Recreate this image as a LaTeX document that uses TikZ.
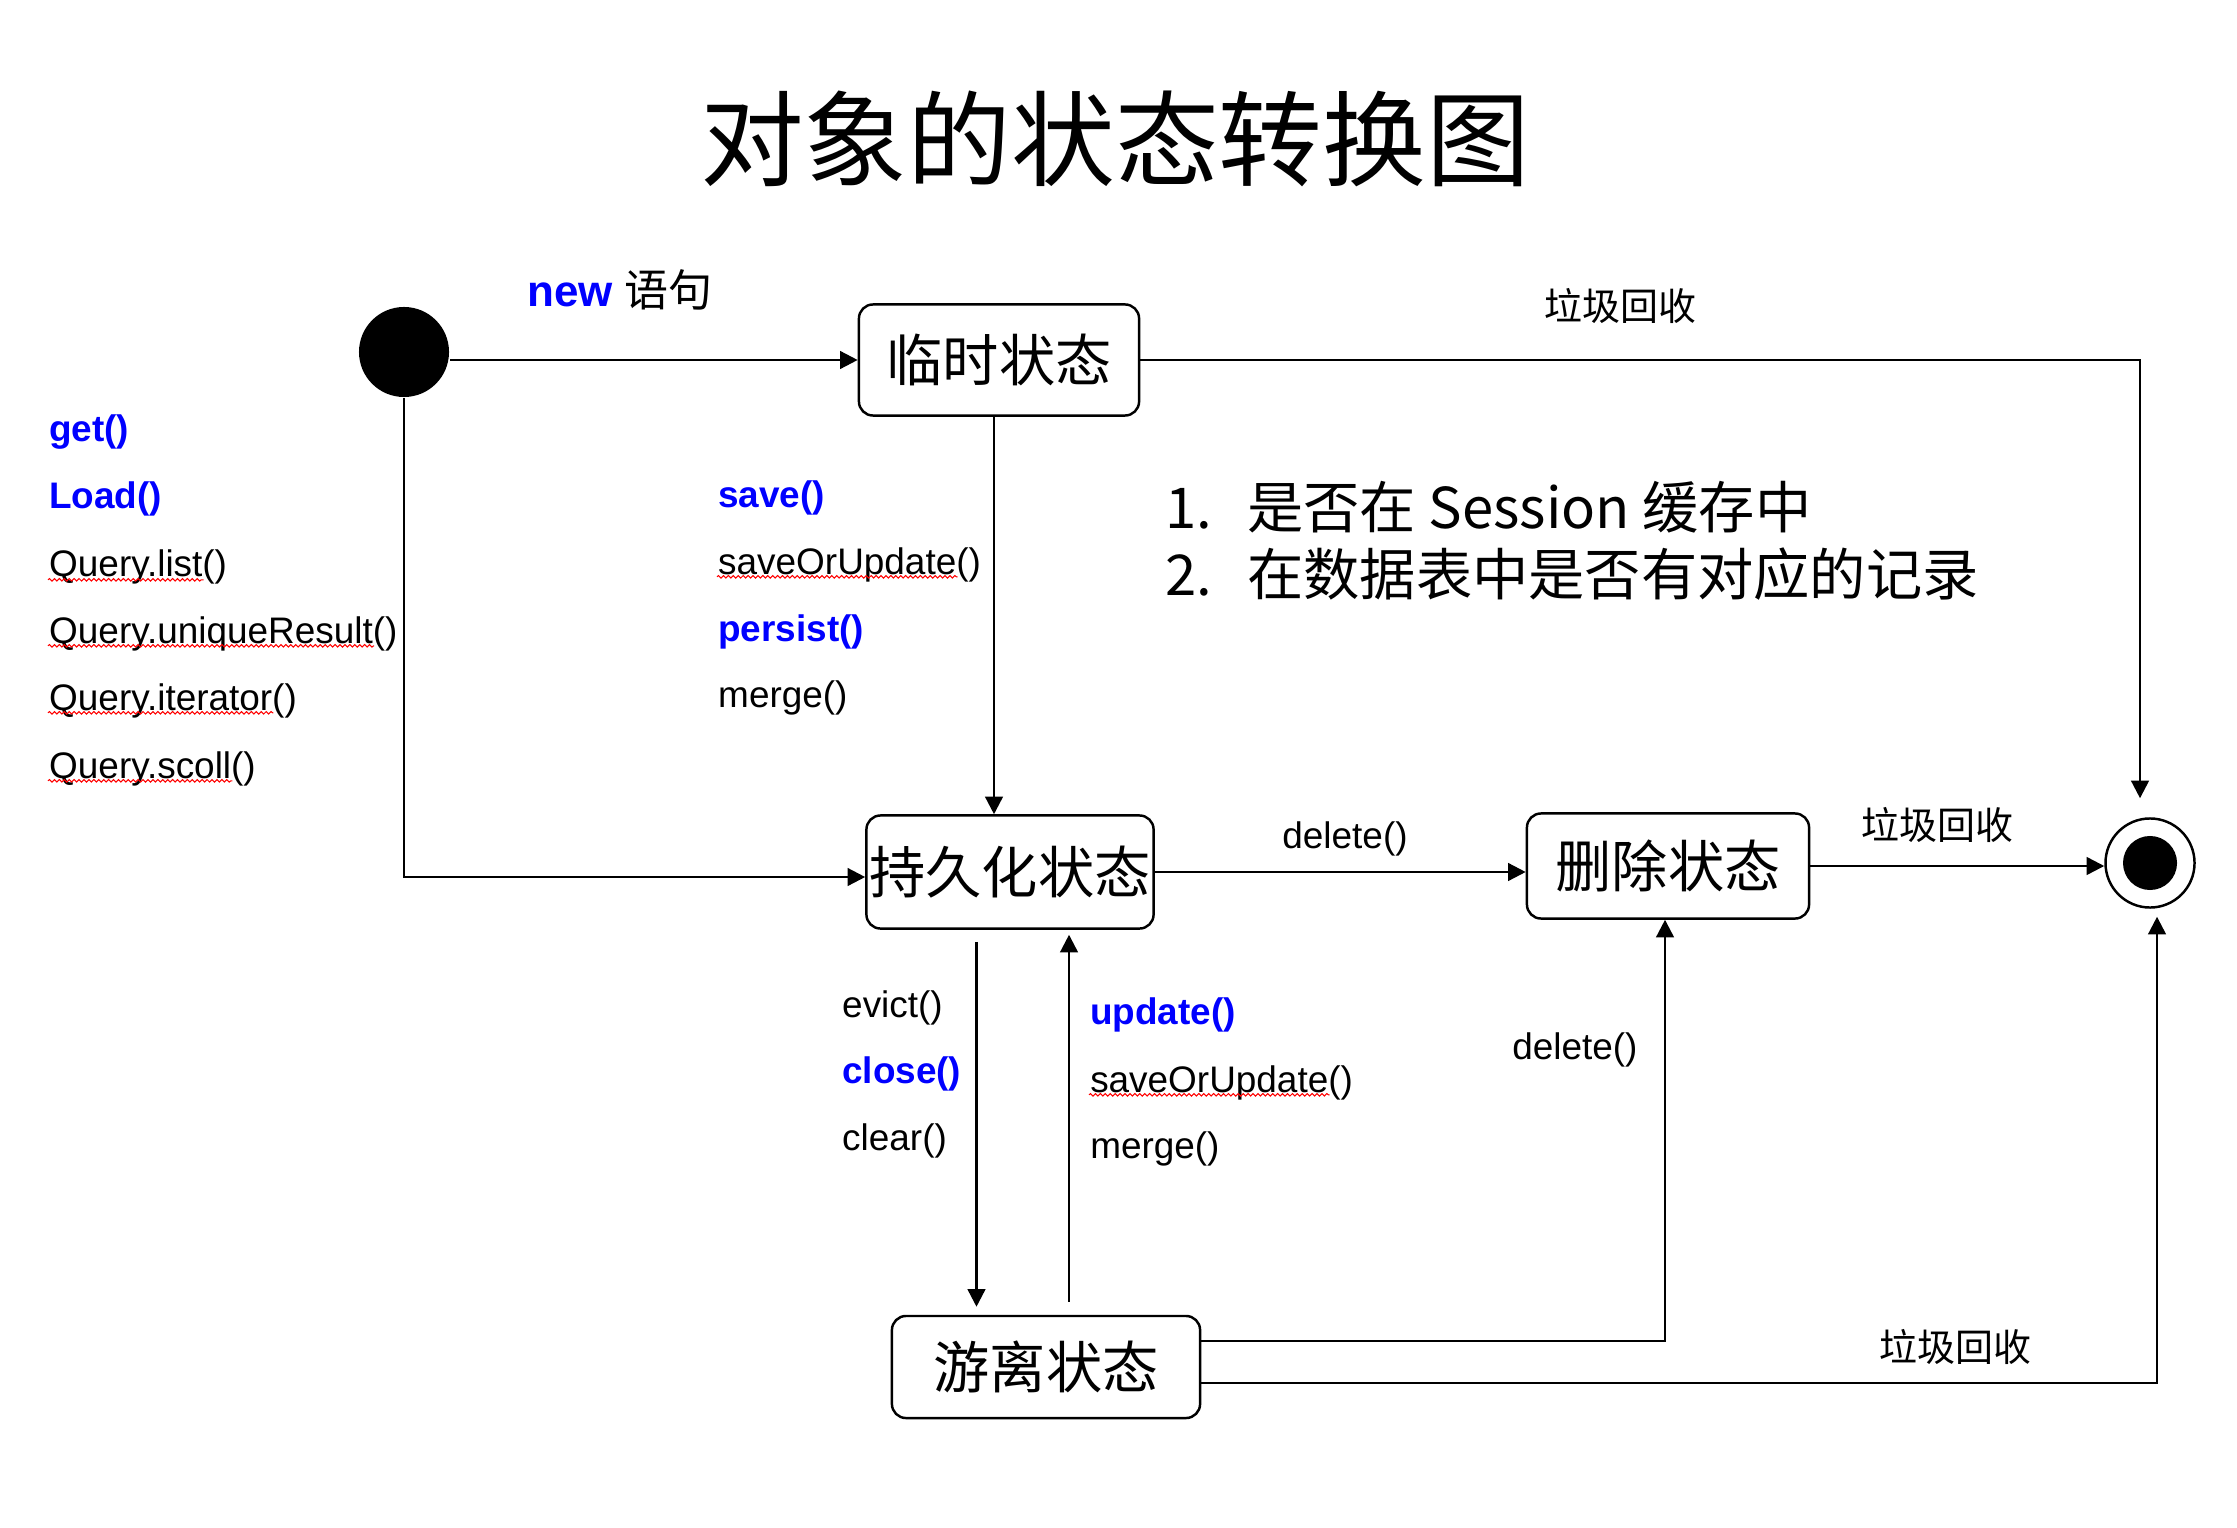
\documentclass[tikz,border=0pt]{standalone}
\usepackage{fontspec}
\setmainfont{Liberation Sans}
\newfontfamily\cjk{Noto Sans CJK SC}
\usepackage{xcolor}
\usetikzlibrary{arrows.meta,calc,decorations.pathmorphing}
\definecolor{kwblue}{RGB}{0,0,255}

\begin{document}
\begin{tikzpicture}[x=0.01cm, y=-0.01cm, line width=0.7pt,
  arr/.style={-{Triangle[length=5pt,width=5pt]}},
  state box/.style={rectangle, rounded corners=4pt, draw, inner sep=0pt, font=\cjk\fontsize{16}{18}\selectfont},
  lbl/.style={anchor=base west, inner sep=0pt, font=\fontsize{10.5}{12}\selectfont},
  kw/.style={lbl, text=kwblue, font=\bfseries\fontsize{10.5}{12}\selectfont},
  gc/.style={inner sep=0pt, font=\cjk\fontsize{10.8}{12}\selectfont},
  note/.style={anchor=base west, inner sep=0pt, font=\cjk\fontsize{16}{19}\selectfont},
  spell/.style={draw=red, line width=0.3pt, decorate, decoration={snake, amplitude=0.35pt, segment length=1.4pt}}]
\useasboundingbox (0,0) rectangle (2237,1528);

\node[inner sep=0pt, font=\cjk\fontsize{29.5}{32}\selectfont] (title) at (1115,139) {对象的状态转换图};

\node[circle, fill, inner sep=0pt, minimum size=0.9cm] (start) at (404,352) {};
\node[circle, draw, inner sep=0pt, minimum size=0.89cm] (end) at (2150,863) {};
\node[circle, fill, inner sep=0pt, minimum size=0.54cm] (endin) at (end) {};

\node[state box, minimum width=2.8cm, minimum height=1.11cm] (tmp) at (999,360) {临时状态};
\node[state box, minimum width=2.87cm, minimum height=1.13cm] (pers) at (1010,872) {持久化状态};
\node[state box, minimum width=2.82cm, minimum height=1.05cm] (del) at (1668,866) {删除状态};
\node[state box, minimum width=3.08cm, minimum height=1.02cm] (det) at (1046,1367) {游离状态};

\draw[arr] (start.east |- tmp.west) -- (tmp.west);
\draw[arr] (tmp.east) -| ([shift={(-10,-19)}]end.north);
\draw[arr] ([xshift=-0.5mm]tmp.south) -- ([xshift=-0.5mm]tmp.south |- pers.north);
\draw[arr] (start.south) |- ([yshift=-0.5mm]pers.west);
\draw[arr] (pers.east) -- (pers.east -| del.west);
\draw[arr] (del.east) -- (del.east -| end.west);
\draw[arr, shorten <=1.2mm, shorten >=0.8mm] ([xshift=-3.35mm]pers.south) -- ([xshift=-3.35mm]pers.south |- det.north);
\draw[arr, shorten <=1.3mm, shorten >=0.5mm] ([xshift=2.3mm]det.north) -- ([xshift=2.3mm]det.north |- pers.south);
\draw[arr] ([yshift=2.6mm]det.east) -| ([xshift=-0.3mm]del.south);
\draw[arr] ([yshift=-1.6mm]det.east) -| ([shift={(7,8)}]end.south);

\node[anchor=base west, inner sep=0pt, font=\fontsize{12.5}{14}\selectfont] (newlbl) at (526,307) {\textcolor{kwblue}{\bfseries new} {\cjk 语句}};
\node[gc] (gc1) at (1620,306) {垃圾回收};
\node[gc] (gc2) at (1937,825) {垃圾回收};
\node[gc] (gc3) at (1955,1347) {垃圾回收};
\node[lbl, anchor=base] (del1) at (1345,848) {delete()};
\node[lbl] (del2) at (1511,1059) {delete()};

\node[kw] (get) at (48,442) {get()};
\node[kw] (load) at (48,509) {Load()};
\node[lbl] (ql) at (48,577) {Query.list\rlap{()}};
\node[lbl] (qu) at (48,643) {Query.uniqueResult\rlap{()}};
\node[lbl] (qi) at (48,710) {Query.iterator\rlap{()}};
\node[lbl] (qs) at (48,778) {Query.scoll\rlap{()}};

\node[kw] (save) at (717,508) {save()};
\node[lbl] (sou1) at (717,574) {saveOrUpdate\rlap{()}};
\node[kw] (persist) at (717,641) {persist()};
\node[lbl] (merge1) at (717,707) {merge()};

\node[lbl] (evict) at (841,1017) {evict()};
\node[kw] (close) at (841,1083) {close()};
\node[lbl] (clear) at (841,1150) {clear()};

\node[kw] (update) at (1089,1024) {update()};
\node[lbl] (sou2) at (1089,1092) {saveOrUpdate\rlap{()}};
\node[lbl] (merge2) at (1089,1158) {merge()};

\foreach \n in {ql,qu,qi,qs,sou1,sou2}
  \draw[spell] ([yshift=-0.8pt]\n.base west) -- ([yshift=-0.8pt]\n.base east);

\node[note] (n1) at (1164,528) {1.};
\node[note] (t1) at (1246,528) {是否在 Session 缓存中};
\node[note] (n2) at (1164,595) {2.};
\node[note] (t2) at (1246,595) {在数据表中是否有对应的记录};
\end{tikzpicture}
\end{document}
